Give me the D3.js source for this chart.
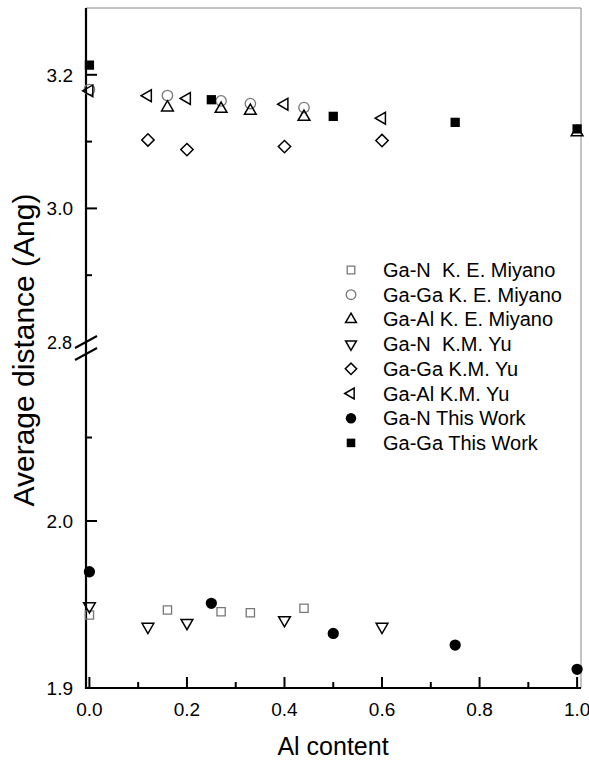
<!DOCTYPE html>
<html><head><meta charset="utf-8">
<script src="https://cdn.jsdelivr.net/npm/d3@7"></script>
<style>body{margin:0;background:#fff}svg{display:block}text{font-family:"Liberation Sans",Arial,sans-serif}</style>
</head><body><svg id="c" width="589" height="760"></svg>
<script>
// ---- data ----
const miyanoX = [0, 0.16, 0.27, 0.33, 0.44];
const gaN_Miyano = [1.9437, 1.9467, 1.9457, 1.9451, 1.9477];
const gaGa_MiyanoX = [0, 0.16, 0.27, 0.33, 0.44];
const gaGa_Miyano = [3.178, 3.169, 3.161, 3.157, 3.151];
const gaAl_MiyanoX = [0.16, 0.27, 0.33, 0.44, 1.0];
const gaAl_Miyano = [3.151, 3.149, 3.146, 3.137, 3.114];
const yuX = [0, 0.12, 0.2, 0.4, 0.6];
const gaN_Yu = [1.949, 1.9367, 1.939, 1.9407, 1.9367];
const gaGa_YuX = [0.12, 0.2, 0.4, 0.6];
const gaGa_Yu = [3.1025, 3.088, 3.0925, 3.1015];
const gaAl_Yu = [3.176, 3.1687, 3.1646, 3.156, 3.135];
const workX = [0, 0.25, 0.5, 0.75, 1.0];
const gaN_Work = [1.9696, 1.9507, 1.9327, 1.9257, 1.9112];
const gaGa_Work = [3.2145, 3.1627, 3.1378, 3.1288, 3.119];
const xTicks = [0, 0.2, 0.4, 0.6, 0.8, 1.0];
const xMinor = [0.1, 0.3, 0.5, 0.7, 0.9];
const yUpMajor = [2.8, 3.0, 3.2];
const yUpMinor = [2.9, 3.1];
const yLoMajor = [1.9, 2.0];
const yLoMinor = [2.05];
const legendLabels = ["Ga-N  K. E. Miyano","Ga-Ga K. E. Miyano","Ga-Al K. E. Miyano","Ga-N  K.M. Yu","Ga-Ga K.M. Yu","Ga-Al K.M. Yu","Ga-N This Work","Ga-Ga This Work"];

// ---- layout ----
const L = 86, R = 581, T = 8, B = 688;
const x = d3.scaleLinear().domain([-0.007, 1.008]).range([L, R]);
const yUp = d3.scaleLinear().domain([2.8, 3.3]).range([342, T]);
const yLo = d3.scaleLinear().domain([1.9, 2.1]).range([B, 354]);
const y = v => v > 2.5 ? yUp(v) : yLo(v);

const svg = d3.select("#c");
const gray = "#777";

// frame
svg.append("line").attr("x1", L).attr("x2", R).attr("y1", T).attr("y2", T).attr("stroke", "#888").attr("stroke-width", 1);
svg.append("line").attr("x1", R).attr("x2", R).attr("y1", T).attr("y2", B).attr("stroke", "#888").attr("stroke-width", 1);

// axes
svg.append("line").attr("x1", L).attr("x2", L).attr("y1", T).attr("y2", B + 1).attr("stroke", "#000").attr("stroke-width", 2.2);
svg.append("line").attr("x1", L - 1).attr("x2", R).attr("y1", B).attr("y2", B).attr("stroke", "#000").attr("stroke-width", 2.2);

// x ticks
xTicks.forEach(t => svg.append("line").attr("x1", x(t)).attr("x2", x(t)).attr("y1", B).attr("y2", B - 11).attr("stroke", "#000").attr("stroke-width", 2));
xMinor.forEach(t => svg.append("line").attr("x1", x(t)).attr("x2", x(t)).attr("y1", B).attr("y2", B - 6).attr("stroke", "#000").attr("stroke-width", 2));
xTicks.forEach(t => svg.append("text").attr("x", x(t)).attr("y", 716).attr("text-anchor", "middle").attr("font-size", 19).text(d3.format(".1f")(t)));

// y ticks
const yt = (s, vals, len) => vals.forEach(v => svg.append("line").attr("x1", L).attr("x2", L + len).attr("y1", s(v)).attr("y2", s(v)).attr("stroke", "#000").attr("stroke-width", 2));
yt(yUp, yUpMajor.filter(v => v !== 2.8), 11);
yt(yUp, yUpMinor, 6);
yt(yLo, yLoMajor, 11);
yt(yLo, yLoMinor, 6);
yUpMajor.forEach(v => svg.append("text").attr("x", v === 2.8 ? 72 : 73).attr("y", yUp(v) + 7).attr("text-anchor", "end").attr("font-size", v === 2.8 ? 18 : 19).text(d3.format(".1f")(v)));
yLoMajor.forEach(v => svg.append("text").attr("x", 73).attr("y", yLo(v) + 7).attr("text-anchor", "end").attr("font-size", 19).text(d3.format(".1f")(v)));

// axis break
[yUp(2.8), yLo(2.1)].forEach(cy => svg.append("line").attr("x1", L - 11).attr("y1", cy + 6).attr("x2", L + 11).attr("y2", cy - 6).attr("stroke", "#000").attr("stroke-width", 2));

// titles
svg.append("text").attr("x", 333).attr("y", 755).attr("text-anchor", "middle").attr("font-size", 25).text("Al content");
svg.append("text").attr("transform", "translate(34,350) rotate(-90)").attr("text-anchor", "middle").attr("font-size", 30).text("Average distance (Ang)");

// symbols
const sym = {
  sq: {type: d3.symbolSquare, size: 68, rot: 0, fill: "none", stroke: gray, sw: 1.3},
  ci: {type: d3.symbolCircle, size: 85, rot: 0, fill: "none", stroke: gray, sw: 1.3},
  tu: {type: d3.symbolTriangle, size: 60, rot: 0, fill: "none", stroke: "#000", sw: 1.5},
  td: {type: d3.symbolTriangle, size: 60, rot: 180, fill: "none", stroke: "#000", sw: 1.5},
  di: {type: d3.symbolSquare, size: 76, rot: 45, fill: "none", stroke: "#000", sw: 1.5},
  tl: {type: d3.symbolTriangle, size: 60, rot: -90, fill: "none", stroke: "#000", sw: 1.5},
  fc: {type: d3.symbolCircle, size: 100, rot: 0, fill: "#000", stroke: "none", sw: 0},
  fs: {type: d3.symbolSquare, size: 86, rot: 0, fill: "#000", stroke: "none", sw: 0}
};
function draw(xs, ys, k) {
  const s = sym[k];
  svg.append("g").selectAll("path").data(xs.map((d, i) => [d, ys[i]])).join("path")
    .attr("d", d3.symbol().type(s.type).size(s.size))
    .attr("transform", d => `translate(${x(d[0])},${y(d[1])}) rotate(${s.rot})`)
    .attr("fill", s.fill).attr("stroke", s.stroke).attr("stroke-width", s.sw);
}
draw(miyanoX, gaN_Miyano, "sq");
draw(gaGa_MiyanoX, gaGa_Miyano, "ci");
draw(gaAl_MiyanoX, gaAl_Miyano, "tu");
draw(yuX, gaN_Yu, "td");
draw(gaGa_YuX, gaGa_Yu, "di");
draw(yuX, gaAl_Yu, "tl");
draw(workX, gaN_Work, "fc");
draw(workX, gaGa_Work, "fs");

// legend
const keys = ["sq", "ci", "tu", "td", "di", "tl", "fc", "fs"];
legendLabels.forEach((lab, i) => {
  const cy = 270 + i * 24.7;
  const s = sym[keys[i]];
  svg.append("path").attr("d", d3.symbol().type(s.type).size(s.size * 0.85)())
    .attr("transform", `translate(351,${cy}) rotate(${s.rot})`)
    .attr("fill", s.fill).attr("stroke", s.stroke).attr("stroke-width", s.sw);
  svg.append("text").attr("x", 383).attr("y", cy + 7).attr("font-size", 20).style("white-space", "pre").text(lab);
});
</script></body></html>
